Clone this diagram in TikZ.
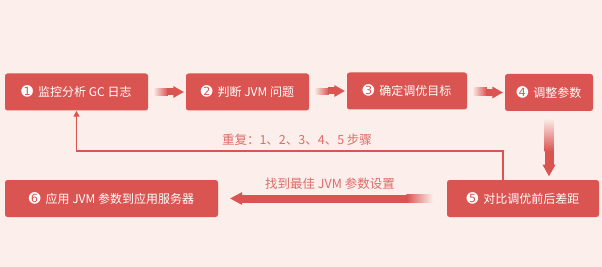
\documentclass[tikz,border=0pt]{standalone}
\usepackage{fontspec}
\setmainfont{Noto Sans CJK SC}
\newfontfamily\dingfont{DejaVu Sans}
\usetikzlibrary{calc,arrows.meta,positioning}
\definecolor{bgpink}{HTML}{FCEEEA}
\definecolor{boxred}{HTML}{DA5451}
\definecolor{lblred}{HTML}{DC6D68}
\newcommand{\stepnum}[1]{{\dingfont\fontsize{14}{14}\selectfont#1}\hspace{5pt}}

\begin{document}
\begin{tikzpicture}[x=1pt,y=-1pt,
  box/.style={fill=boxred,rounded corners=2.5pt,minimum height=37pt,text=white,font=\fontsize{12}{14}\selectfont,inner sep=0pt},
  lbl/.style={text=lblred,font=\fontsize{12.5}{14}\selectfont,inner sep=0pt}]
\fill[bgpink] (0,0) rectangle (602,267);
\useasboundingbox (0,0) rectangle (602,267);
\node[box,minimum width=143pt] (b1) at (76.5,92){\stepnum{➊}监控分析 GC 日志};
\node[box,minimum width=123pt] (b2) at (247.5,92){\stepnum{➋}判断 JVM 问题};
\node[box,minimum width=120pt] (b3) at (407,91){\stepnum{➌}确定调优目标};
\node[box,minimum width=88pt] (b4) at (549,92.5){\stepnum{➍}调整参数};
\node[box,minimum width=152pt] (b5) at (523,198.5){\stepnum{➎}对比调优前后差距};
\node[box,minimum width=213pt] (b6) at (111.5,198.5){\stepnum{➏}应用 JVM 参数到应用服务器};
% fading arrows along the top row
\foreach \a/\b in {b1/b2,b2/b3,b3/b4}{
 \shade[left color=bgpink,right color=boxred] ($(\a.east)+(5,-3.5)$) rectangle ($(\b.west)+(-18,3.5)$);
 \fill[boxred] ($(\b.west)+(-18.5,-3.5)$) rectangle ($(\b.west)+(-12,3.5)$);
 \fill[boxred] ($(\b.west)+(-12.5,-6)$)--($(\b.west)+(-2,0)$)--($(\b.west)+(-12.5,6)$)--cycle;
}
\shade[top color=bgpink,bottom color=boxred] ($(b4.south)+(-4.5,7)$) rectangle ($(b4.south)+(4.5,40)$);
\fill[boxred] ($(b4.south)+(-4.5,39.5)$) rectangle ($(b4.south)+(4.5,54)$);
\fill[boxred] ($(b4.south)+(-6.5,53.5)$)--($(b4.south)+(0,65)$)--($(b4.south)+(6.5,53.5)$)--cycle;
\fill[boxred] ($(b6.east)+(23.5,-4)$) rectangle ($(b5.west)+(-40,4)$);
\shade[left color=boxred,right color=bgpink] ($(b5.west)+(-40.5,-4)$) rectangle ($(b5.west)+(-14,4)$);
\fill[boxred] ($(b6.east)+(24,-6.5)$)--($(b6.east)+(12,0)$)--($(b6.east)+(24,6.5)$)--cycle;
% loop back to step 1
\coordinate (fb) at (503,151);
\draw[boxred,line width=1.4pt,-{Triangle[length=6pt,width=6pt]}] (b5.north -| fb)--(fb)-|(b1.south);
\node[lbl] (rep) at (297,140){重复：1、2、3、4、5 步骤};
\node[lbl] (best) at (330,184){找到最佳 JVM 参数设置};
\end{tikzpicture}
\end{document}
